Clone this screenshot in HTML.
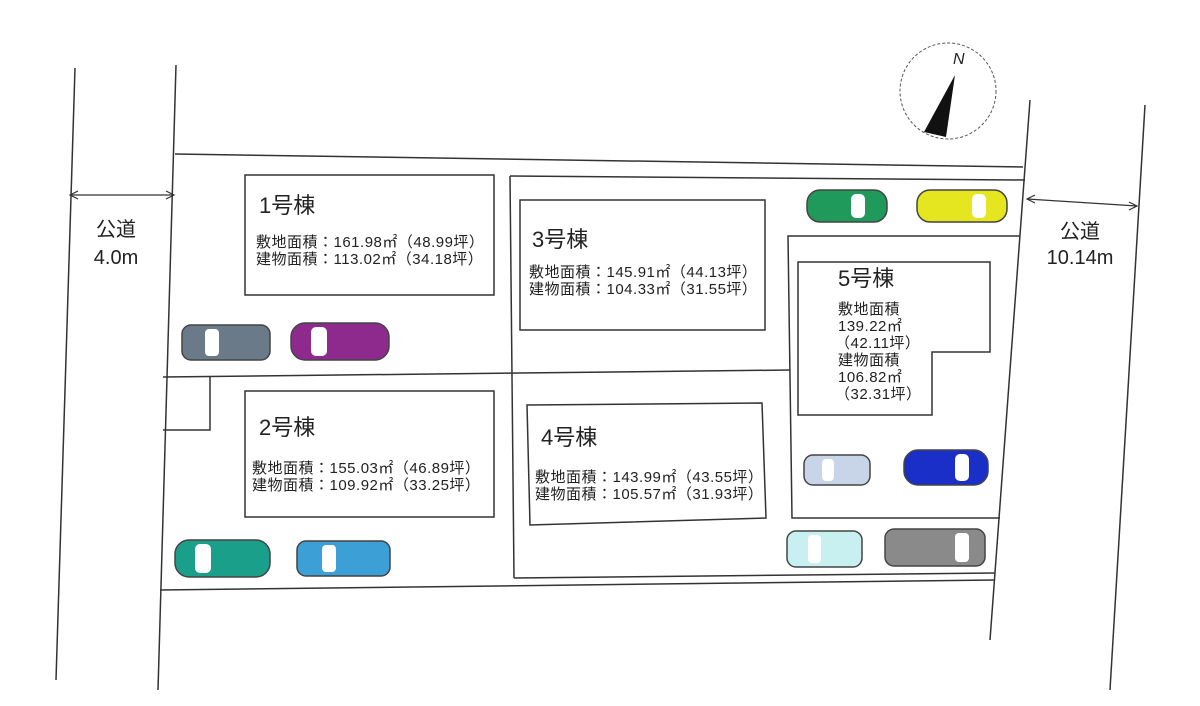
<!DOCTYPE html>
<html><head><meta charset="utf-8"><style>
html,body{margin:0;padding:0;background:#fff;width:1200px;height:706px;overflow:hidden}
svg{display:block}
text{font-family:"Liberation Sans","Noto Sans CJK JP",sans-serif;fill:#222}
</style></head><body>
<svg width="1200" height="706" viewBox="0 0 1200 706">
<g stroke="#333" stroke-width="1.5" fill="none">
<line x1="75" y1="68" x2="56" y2="680"/>
<line x1="176" y1="65" x2="158" y2="690"/>
<line x1="1030" y1="100" x2="990" y2="640"/>
<line x1="1145" y1="105" x2="1110" y2="690"/>
<line x1="175" y1="154" x2="1023" y2="167"/>
<line x1="510" y1="176" x2="1025" y2="180"/>
<line x1="160" y1="590" x2="995" y2="580"/>
<line x1="510" y1="176" x2="514" y2="578"/>
<line x1="514" y1="578" x2="995" y2="573"/>
<line x1="163" y1="377" x2="790" y2="370"/>
<polyline points="163,430 210,430 210,377"/>
<polyline points="1020,236 788,236 792,518 1000,518"/>
<rect x="245" y="175" width="249" height="120"/>
<rect x="245" y="391" width="249" height="126"/>
<rect x="520" y="200" width="245" height="130"/>
<polygon points="527,405 762,403 766,518 530,525"/>
<polygon points="798,262 990,262 990,352 932,352 932,415 798,415"/>
</g>
<g stroke="#333" stroke-width="1.2" fill="none">
<line x1="70" y1="195" x2="174" y2="195"/>
<polyline points="78,191 70,195 78,199"/><polyline points="166,191 174,195 166,199"/>
<line x1="1027" y1="199" x2="1137" y2="206"/>
<polyline points="1035,195 1027,199 1035,203"/><polyline points="1129,202 1137,206 1129,210"/>
</g>
<circle cx="948" cy="91" r="48" fill="none" stroke="#555" stroke-width="1" stroke-dasharray="3,2"/>
<polygon points="955,75 924,132 946,137" fill="#111"/>
<text x="953" y="64" font-size="16" font-style="italic" font-family="Liberation Serif,serif">N</text>

<text x="116" y="236" font-size="20" text-anchor="middle">公道</text>
<text x="116" y="264" font-size="20" text-anchor="middle">4.0m</text>
<text x="1080" y="238" font-size="20" text-anchor="middle">公道</text>
<text x="1080" y="264" font-size="20" text-anchor="middle">10.14m</text>

<g font-size="22"><text x="259" y="213">1号棟</text><text x="259" y="435">2号棟</text><text x="532" y="247">3号棟</text><text x="541" y="445">4号棟</text><text x="838" y="286">5号棟</text></g>
<g font-size="15" letter-spacing="0.5">
<text x="256" y="247">敷地面積：161.98㎡（48.99坪）</text>
<text x="256" y="264">建物面積：113.02㎡（34.18坪）</text>
<text x="252" y="473">敷地面積：155.03㎡（46.89坪）</text>
<text x="252" y="490">建物面積：109.92㎡（33.25坪）</text>
<text x="529" y="277">敷地面積：145.91㎡（44.13坪）</text>
<text x="529" y="294">建物面積：104.33㎡（31.55坪）</text>
<text x="535" y="482">敷地面積：143.99㎡（43.55坪）</text>
<text x="535" y="499">建物面積：105.57㎡（31.93坪）</text>
<text x="838" y="314">敷地面積</text><text x="838" y="331">139.22㎡</text><text x="835" y="348">（42.11坪）</text>
<text x="838" y="365">建物面積</text><text x="838" y="382">106.82㎡</text><text x="835" y="399">（32.31坪）</text>
</g>
<g stroke="#444" stroke-width="1.5">
<rect x="182" y="325" width="88" height="35" rx="9" fill="#6b7a88"/><rect x="205" y="329" width="14" height="27" rx="4" fill="#fff" stroke="none"/>
<rect x="291" y="323" width="98" height="37" rx="14" fill="#8e2a8e"/><rect x="311" y="327" width="16" height="29" rx="5" fill="#fff" stroke="none"/>
<rect x="175" y="540" width="95" height="37" rx="14" fill="#1aa08a"/><rect x="195" y="544" width="16" height="29" rx="5" fill="#fff" stroke="none"/>
<rect x="297" y="541" width="93" height="35" rx="9" fill="#3c9fd6"/><rect x="322" y="545" width="14" height="27" rx="4" fill="#fff" stroke="none"/>
<rect x="807" y="190" width="80" height="32" rx="13" fill="#1f9a5a"/><rect x="851" y="194" width="14" height="24" rx="5" fill="#fff" stroke="none"/>
<rect x="917" y="190" width="90" height="32" rx="13" fill="#e6e620"/><rect x="972" y="194" width="14" height="24" rx="5" fill="#fff" stroke="none"/>
<rect x="804" y="455" width="66" height="30" rx="9" fill="#c8d4e8"/><rect x="822" y="459" width="12" height="22" rx="4" fill="#fff" stroke="none"/>
<rect x="904" y="450" width="84" height="35" rx="14" fill="#1a2fc8"/><rect x="955" y="454" width="14" height="27" rx="5" fill="#fff" stroke="none"/>
<rect x="787" y="531" width="75" height="36" rx="9" fill="#c8f0f0"/><rect x="808" y="535" width="13" height="28" rx="4" fill="#fff" stroke="none"/>
<rect x="885" y="529" width="100" height="37" rx="9" fill="#8a8a8a"/><rect x="955" y="533" width="14" height="29" rx="4" fill="#fff" stroke="none"/>
</g>
</svg>
</body></html>
